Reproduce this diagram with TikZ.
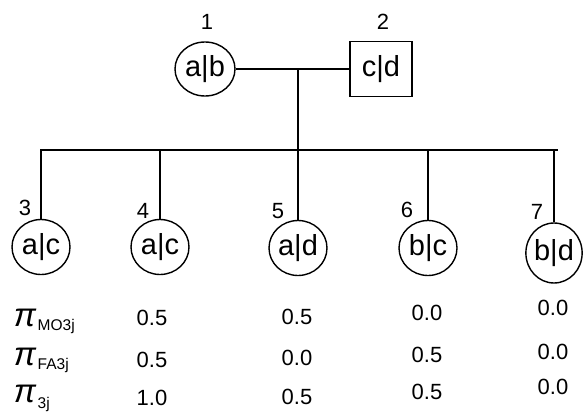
\documentclass[tikz,border=0pt]{standalone}
\usepackage{fontspec}
\setmainfont{Liberation Sans}
\usetikzlibrary{shapes.geometric}
\begin{document}
\begin{tikzpicture}[x=1pt,y=-1pt,
  line width=1.4pt,
  person/.style={draw,ellipse,inner sep=0pt,font=\fontsize{29}{29}\selectfont},
  male/.style={draw,rectangle,inner sep=0pt,minimum width=62pt,minimum height=55pt,font=\fontsize{29}{29}\selectfont},
  idlab/.style={font=\fontsize{22}{22}\selectfont},
  val/.style={font=\fontsize{22}{22}\selectfont},
  pilab/.style={font=\fontsize{33}{33}\selectfont\itshape,inner sep=0pt},
  sublab/.style={font=\fontsize{15.5}{15.5}\selectfont,inner sep=0pt,anchor=west}]
\useasboundingbox (0,0) rectangle (583,417);
% parents
\node[person,minimum width=60pt,minimum height=54pt] (p1) at (205,69) {a|b};
\node[male] (p2) at (381,69) {c|d};
\node[idlab] (l1) at (207,22) {1};
\node[idlab] (l2) at (383,22) {2};
\coordinate (m) at (298,69);
\coordinate (s) at (298,150);
\coordinate (sL) at (40,150);
\coordinate (sR) at (558,150);
\draw (p1.east) -- (p2.west);
\draw (m) -- (s);
\draw (sL) -- (sR);
% children
\node[person,minimum width=58pt,minimum height=55pt] (c3) at (41,247) {a|c};
\node[person,minimum width=58pt,minimum height=55pt] (c4) at (160,247) {a|c};
\node[person,minimum width=58pt,minimum height=55pt] (c5) at (298,248) {a|d};
\node[person,minimum width=58pt,minimum height=55pt] (c6) at (428,248) {b|c};
\node[person,minimum width=56pt,minimum height=60pt] (c7) at (554,253) {b|d};
\foreach \c in {c3,c4,c5,c6,c7}{\draw (\c.north) -- (\c.north |- sL);}
\node[idlab] (l3) at (25,208) {3};
\node[idlab] (l4) at (143,211) {4};
\node[idlab] (l5) at (278,211) {5};
\node[idlab] (l6) at (407,210) {6};
\node[idlab] (l7) at (537,212) {7};
% table
\node[pilab] (pi1) at (25,318) {π};
\node[sublab] (s1) at (37,326) {MO3j};
\node[pilab] (pi2) at (25,357) {π};
\node[sublab] (s2) at (37,365) {FA3j};
\node[pilab] (pi3) at (25,394) {π};
\node[sublab] (s3) at (37,404) {3j};
\node[val] (v11) at (152,318) {0.5};
\node[val] (v12) at (152,360) {0.5};
\node[val] (v13) at (152,398) {1.0};
\node[val] (v21) at (297,317) {0.5};
\node[val] (v22) at (297,358) {0.0};
\node[val] (v23) at (297,397) {0.5};
\node[val] (v31) at (427,313) {0.0};
\node[val] (v32) at (427,355) {0.5};
\node[val] (v33) at (427,392) {0.5};
\node[val] (v41) at (553,308) {0.0};
\node[val] (v42) at (553,352) {0.0};
\node[val] (v43) at (553,387) {0.0};
\end{tikzpicture}
\end{document}
